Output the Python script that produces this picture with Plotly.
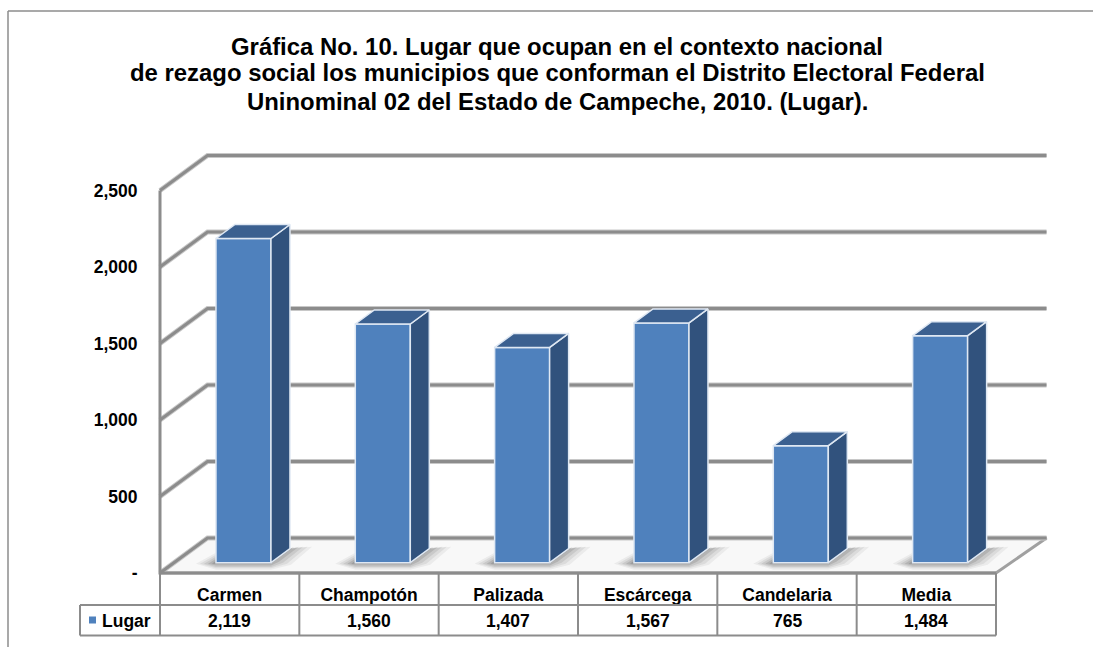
import plotly.graph_objects as go

categorias = ["Carmen", "Champotón", "Palizada", "Escárcega", "Candelaria", "Media"]
lugar = [2119, 1560, 1407, 1567, 765, 1484]
etiquetas_lugar = ["2,119", "1,560", "1,407", "1,567", "765", "1,484"]
ticks_y = [0, 500, 1000, 1500, 2000, 2500]
ticks_y_txt = ["-", "500", "1,000", "1,500", "2,000", "2,500"]
titulo = ["Gráfica No. 10. Lugar que ocupan en el contexto nacional",
          "de rezago social los municipios que conforman el Distrito Electoral Federal",
          "Uninominal 02 del Estado de Campeche, 2010. (Lugar)."]

W, H = 1093, 647
L, R, B, T = 160, 996, 573, 190.5
PX_X = (R - L) / 6
PX_Y = (B - T) / 2500
def ox(px): return px / PX_X
def oy(px): return px / PX_Y
def py(p): return 1 - p / H

X_RANGE = [-0.5 - ox(L), -0.5 + ox(W - L)]
Y_RANGE = [-oy(H - B), oy(B)]

GRIS = "#8c8c8c"
FONT = dict(family="Liberation Sans, Arial, sans-serif", size=17.5, color="black")

fig = go.Figure()
wall_dxl, wall_dxr, wall_dy = ox(47.5), ox(50.5), oy(35)

# piso
fig.add_trace(go.Scatter(
    x=[-0.5, -0.5 + wall_dxl, 5.5 + wall_dxr, 5.5, -0.5],
    y=[0, wall_dy, wall_dy, 0, 0],
    mode="lines", fill="toself", fillcolor="#f8f8f8",
    line=dict(color="#a0a0a0", width=3), hoverinfo="skip", showlegend=False))

# líneas de pared con halo
gx, gy = [], []
for v in ticks_y:
    gx += [-0.5, -0.5 + wall_dxl, 5.5 + wall_dxr, None]
    gy += [v, v + wall_dy, v + wall_dy, None]
fig.add_trace(go.Scatter(x=gx, y=gy, mode="lines", line=dict(color="#c8c8c8", width=5),
                         hoverinfo="skip", showlegend=False))
fig.add_trace(go.Scatter(x=gx, y=gy, mode="lines", line=dict(color=GRIS, width=3),
                         hoverinfo="skip", showlegend=False))
# borde frontal del eje
fig.add_trace(go.Scatter(x=[-0.5, -0.5, 5.5], y=[ticks_y[-1], 0, 0], mode="lines",
                         line=dict(color=GRIS, width=3), hoverinfo="skip", showlegend=False))

# sombras
off, ancho = ox(13.8), ox(55)
base = oy(10.3)
prof_x, prof_y = ox(19), oy(14)
for i in range(len(lugar)):
    xl = i + off - ancho / 2
    xr = xl + ancho
    for k, a in [(1.0, 0.07), (0.8, 0.09), (0.6, 0.12), (0.4, 0.16), (0.2, 0.22)]:
        fig.add_trace(go.Scatter(
            x=[xl - ox(20 * k), xl, xr + prof_x, xr + prof_x + ox(22 * k),
               xr + ox(20 * k), xr, xl, xl - ox(20 * k)],
            y=[base - oy(1), base + oy(10 * k), base + prof_y, base + prof_y + oy(2),
               base + oy(3 - 5 * k), base - oy(7 * k), base - oy(7 * k), base - oy(1)],
            mode="lines", fill="toself", fillcolor=f"rgba(70,70,70,{a})",
            line=dict(width=0), hoverinfo="skip", showlegend=False))

# barras: cara frontal
fig.add_trace(go.Bar(
    x=[i + off for i in range(len(lugar))], y=lugar, base=base, width=ancho,
    marker=dict(color="#4f81bd", line=dict(color="#dfe8f3", width=1.5)),
    xaxis="x2", yaxis="y2", name="Lugar", showlegend=False))

# caras lateral y superior
for i, v in enumerate(lugar):
    xl = i + off - ancho / 2
    xr = xl + ancho
    y0, y1 = base, base + v
    fig.add_trace(go.Scatter(
        x=[xr, xr + prof_x, xr + prof_x, xr, xr], y=[y0, y0 + prof_y, y1 + prof_y, y1, y0],
        mode="lines", fill="toself", fillcolor="#31527d",
        line=dict(color="#dfe8f3", width=1.5),
        xaxis="x2", yaxis="y2", hoverinfo="skip", showlegend=False))
    fig.add_trace(go.Scatter(
        x=[xl, xl + prof_x, xr + prof_x, xr, xl], y=[y1, y1 + prof_y, y1 + prof_y, y1, y1],
        mode="lines", fill="toself", fillcolor="#3b6090",
        line=dict(color="#dfe8f3", width=1.5),
        xaxis="x2", yaxis="y2", hoverinfo="skip", showlegend=False))

# tabla de datos
shapes = []
def linea(x0, y0, x1, y1, xref="paper"):
    shapes.append(dict(type="line", xref=xref, yref="paper", x0=x0, y0=y0, x1=x1, y1=y1,
                       line=dict(color=GRIS, width=2)))
for i in range(len(categorias) + 1):
    linea(i - 0.5, py(B), i - 0.5, py(635.5), xref="x")
linea(80 / W, py(605), R / W, py(605))
linea(80 / W, py(635.5), R / W, py(635.5))
linea(80 / W, py(605), 80 / W, py(635.5))
# marco exterior
shapes.append(dict(type="line", xref="paper", yref="paper", x0=8 / W, y0=py(11), x1=1, y1=py(11),
                   line=dict(color=GRIS, width=1.5)))
shapes.append(dict(type="line", xref="paper", yref="paper", x0=8 / W, y0=py(11), x1=8 / W, y1=0,
                   line=dict(color=GRIS, width=1.5)))
# clave de la leyenda
shapes.append(dict(type="rect", xref="paper", yref="paper", x0=89 / W, x1=96 / W,
                   y0=py(623.5), y1=py(616.5), fillcolor="#4f81bd", line=dict(width=0)))

anots = [dict(x=i, y=py(620.5), xref="x", yref="paper", text=f"<b>{t}</b>", showarrow=False,
              font=FONT, yanchor="middle")
         for i, t in enumerate(etiquetas_lugar)]
anots.append(dict(x=100 / W, y=py(620.5), xref="paper", yref="paper", text="<b>Lugar</b>",
                  xanchor="left", yanchor="middle", showarrow=False, font=FONT))
for linea_txt, yy in zip(titulo, [46, 73, 101]):
    anots.append(dict(x=557 / W, y=py(yy), xref="paper", yref="paper", text=f"<b>{linea_txt}</b>",
                      yanchor="middle", showarrow=False,
                      font=dict(family=FONT["family"], size=23.9, color="black")))

eje_base = dict(showgrid=False, zeroline=False)
fig.update_layout(
    width=W, height=H, margin=dict(l=0, r=0, t=0, b=0, pad=0),
    autosize=False, paper_bgcolor="white", plot_bgcolor="rgba(0,0,0,0)",
    xaxis=dict(domain=[0, 1], range=X_RANGE, tickmode="array",
               tickvals=list(range(len(categorias))),
               ticktext=[f"<b>{c}</b>" for c in categorias],
               anchor="free", position=py(B),
               ticks="outside", ticklen=6, tickcolor="rgba(0,0,0,0)", tickfont=FONT,
               showline=False, **eje_base),
    yaxis=dict(domain=[0, 1], range=Y_RANGE, tickmode="array",
               tickvals=ticks_y, ticktext=[f"<b>{t}</b>" for t in ticks_y_txt],
               anchor="free", position=L / W,
               ticks="outside", ticklen=19, tickcolor="rgba(0,0,0,0)", tickfont=FONT,
               showline=False, **eje_base),
    xaxis2=dict(overlaying="x", matches="x", visible=False, anchor="y2", **eje_base),
    yaxis2=dict(overlaying="y", matches="y", visible=False, anchor="x2", **eje_base),
    shapes=shapes, annotations=anots, showlegend=False,
)
fig.write_html("out.html", config=dict(displayModeBar=False),
               post_script="document.body.style.margin='0';")
